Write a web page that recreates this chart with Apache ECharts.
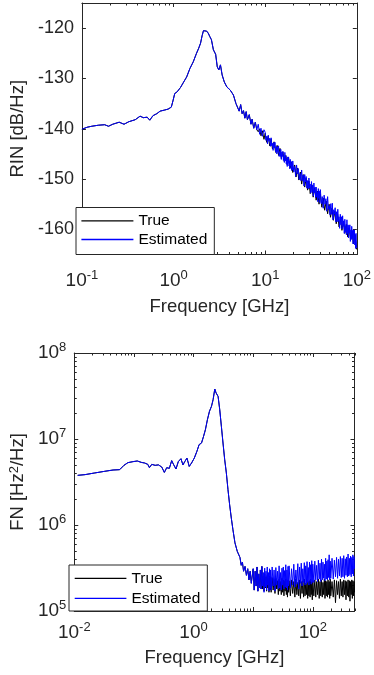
<!DOCTYPE html>
<html><head><meta charset="utf-8">
<script src="https://cdn.jsdelivr.net/npm/echarts@6/dist/echarts.min.js"></script>
<style>html,body{margin:0;padding:0;background:#fff}#c{width:374px;height:675px}</style>
</head><body><div id="c"></div>
<script>
// ---------- RIN (top) ----------
const rinFreqA = [0.1,0.114,0.128,0.151,0.177,0.195,0.217,0.255,0.288,0.325,0.382,0.431,0.468,0.515,0.55,0.596,0.657,0.713,0.791,0.871,0.945,0.99,1.03,1.09,1.19,1.29,1.39,1.51,1.64,1.78,1.88,1.97,2.05,2.12,2.21,2.3,2.39,2.49,2.59,2.72,2.88,3.0,3.12,3.25,3.39,3.58,3.82,4.15,4.5,4.8];
const rinA = [-140.1,-139.7,-139.5,-139.3,-139.2,-139.5,-139.1,-138.7,-139.1,-138.6,-138.2,-137.5,-137.8,-137.7,-138.3,-137.4,-137.0,-136.5,-136.3,-136.1,-135.7,-134.3,-133.0,-132.7,-131.8,-130.7,-129.7,-128.0,-126.7,-125.0,-124.0,-123.0,-121.5,-120.5,-120.8,-120.6,-121.0,-121.7,-122.3,-124.3,-125.2,-127.7,-128.3,-127.3,-129.3,-130.7,-131.7,-132.3,-133.3,-135.0];
// Estimated, noisy high-frequency part
const rinFreqEstB = [5.0,5.2,5.4,5.6,5.8,6.0,6.2,6.4,6.7,7.0,7.2,7.5,7.8,8.1,8.4,8.7,9.0,9.3,9.7,
 10,10.2,10.4,10.6,10.8,11,11.2,11.4,11.6,11.8,12,12.2,12.4,12.6,12.8,13,13.2,13.4,13.6,13.8,14,14.2,14.4,14.6,14.8,15,15.2,15.4,15.6,15.8,16,16.2,16.4,16.6,16.8,17,17.2,17.4,17.6,17.8,18,18.2,18.4,18.6,18.8,19,19.2,19.4,19.6,19.8,
 20,20.5,21,21.5,22,22.5,23,23.5,24,24.5,25,25.5,26,26.5,27,27.5,28,28.5,29,29.5,30,30.5,31,31.5,32,32.5,33,33.5,34,34.5,35,35.5,36,36.5,37,37.5,38,38.5,39,39.5,
 40,41,42,43,44,45,46,47,48,49,50,51,52,53,54,55,56,57,58,59,60,61,62,63,64,65,66,67,68,69,70,71,72,73,74,75,76,77,78,79,80,81,82,83,84,85,86,87,88,89,90,91,92,93,94,95,96,97,98,99,100];
const rinEstB = [-134.9,-136.5,-135.2,-137.0,-136.4,-137.9,-136.6,-138.2,-137.2,-139.1,-138.1,-139.9,-138.7,-140.2,-139.1,-141.1,-139.9,-141.5,-140.2,
 -140.7,-142.3,-141.5,-143.0,-141.3,-142.5,-141.9,-143.5,-141.8,-143.4,-142.9,-144.3,-142.7,-143.8,-142.7,-144.6,-143.5,-145.0,-143.6,-144.7,
 -143.4,-145.5,-144.6,-145.5,-144.1,-146.1,-144.6,-145.5,-144.5,-146.3,-145.3,-146.7,-144.7,-146.4,-145.4,-147.0,-146.0,-147.5,-145.6,-146.9,
 -145.6,-147.4,-146.4,-148.0,-146.1,-147.4,-146.5,-148.3,-146.9,-148.2,
 -146.4,-148.6,-147.5,-149.5,-147.2,-149.0,-147.9,-150.1,-148.9,-150.3,-148.2,-150.3,-149.2,-151.4,-149.1,-150.6,-149.5,-151.8,-150.3,-152.0,
 -149.8,-151.8,-151.0,-152.8,-150.5,-152.6,-151.2,-153.4,-150.8,-152.7,-151.6,-153.7,-151.6,-153.6,-152.5,-154.5,-151.9,-153.8,-152.4,-154.7,
 -152.1,-154.9,-153.5,-155.8,-153.2,-155.0,-153.9,-156.4,-153.5,-156.0,-155.3,-157.1,-154.9,-157.0,-154.8,-158.1,-156.1,-157.0,-155.7,-158.5,
 -156.5,-158.5,-156.0,-158.4,-157.5,-159.8,-157.0,-159.1,-157.5,-159.9,-157.3,-159.4,-158.3,-160.8,-158.0,-160.5,-159.3,-161.1,-158.1,-160.8,
 -159.1,-161.7,-159.2,-160.7,-159.1,-162.4,-160.1,-162.0,-159.4,-161.8,-160.2,-162.9,-160.1,-162.0,-160.1,-163.1,-161.0,-163.8,-160.8,-163.1,
 -163.7];
// True, noisy high-frequency part
const rinFreqTrueB = [5.0,5.2,5.4,5.6,5.8,6.0,6.2,6.4,6.7,7.0,7.2,7.5,7.8,8.1,8.4,8.7,9.0,9.3,9.7,10,10.4,10.8,11.2,11.6,12,12.5,13,13.5,14,14.5,15,15.6,16.2,16.8,17.4,18,18.7,19.4,20,21,21.7,22.5,23.3,24.2,25,26,27,28,29,30,31,32.2,33.4,34.6,36,37.3,38.7,40,41.5,43,44.6,46.3,48,49.8,51.6,53.5,55.5,57.5,59.6,61.8,64,66.4,68.8,71.3,74,76.7,79.5,82.4,85.5,88.6,91.9,95.3,98.8,100];
const rinTrueB = [-134.9,-136.5,-135.2,-137.0,-136.4,-137.9,-136.6,-138.2,-137.2,-139.1,
 -138.1,-139.9,-138.7,-140.2,-140.6,-140.0,-141.4,-140.4,-142.1,-140.9,
 -142.7,-141.4,-143.4,-142.0,-144.0,-142.6,-144.7,-143.3,-145.3,-143.9,
 -145.9,-144.6,-146.6,-145.3,-147.2,-145.8,-147.8,-146.6,-148.7,-147.2,
 -149.6,-147.8,-150.2,-148.6,-151.0,-149.1,-151.6,-149.8,-152.2,-150.4,
 -152.9,-151.1,-153.6,-151.8,-154.2,-152.4,-155.0,-153.0,-155.6,-153.8,
 -156.2,-154.4,-156.9,-155.0,-157.6,-155.8,-158.2,-156.4,-158.9,-157.0,
 -159.5,-157.7,-160.2,-158.4,-160.8,-159.0,-161.5,-159.7,-162.1,-160.4,
 -162.9,-161.2,-163.6,-164.0];

// ---------- FN (bottom) ----------
const fnFreqA = [0.0114,0.0151,0.0221,0.0324,0.0447,0.0577,0.0681,0.0794,0.0962,0.114,0.133,0.151,0.171,0.182,0.1995,0.227,0.258,0.293,0.324,0.355,0.393,0.43,0.464,0.508,0.555,0.615,0.664,0.717,0.775,0.847,0.927,1.03,1.14,1.24,1.36,1.47,1.58,1.71,1.85,2.0,2.13,2.27,2.39,2.58,2.75,2.93,3.12,3.33,3.55,3.78,4.03,4.3,4.58,4.95,5.41];
const fnA = [3.78e6,3.85e6,4.03e6,4.21e6,4.36e6,4.40e6,4.94e6,5.31e6,5.45e6,5.55e6,5.35e6,5.26e6,5.07e6,4.64e6,5.07e6,4.94e6,5.0e6,4.72e6,4.09e6,4.64e6,4.56e6,5.6e6,5.03e6,4.48e6,5.45e6,5.9e6,5.0e6,5.5e6,6.0e6,4.8e6,5.26e6,6.0e6,7.2e6,8.6e6,8.98e6,1.07e7,1.28e7,1.68e7,2.1e7,2.4e7,2.87e7,3.81e7,3.43e7,3.13e7,2.19e7,1.40e7,8.98e6,5.75e6,4.03e6,2.58e6,1.72e6,1.2e6,8.8e5,6.2e5,4.94e5];
const fnFreqB = [6,6.3,6.6,6.9,7.3,7.7,8.1,8.5,8.9,9.3,9.8,
 10,10.4,10.8,11.2,11.6,12,12.4,12.8,13.2,13.6,14,14.4,14.8,15.2,15.6,16,16.4,16.8,17.2,17.6,18,18.4,18.8,19.2,19.6,
 20,20.8,21.6,22.4,23.2,24,24.8,25.6,26.4,27.2,28,28.8,29.6,30.4,31.2,32,32.8,33.6,34.4,35.2,36,36.8,37.6,38.4,39.2,
 40,42,44,46,48,50,52,54,56,58,60,62,64,66,68,70,72,74,76,78,80,82,84,86,88,90,92,94,96,98,
 100,104,108,112,116,120,124,128,132,136,140,144,148,152,156,160,164,168,172,176,180,184,188,192,196,
 200,210,220,230,240,250,260,270,280,290,300,310,320,330,340,350,360,370,380,390,400,410,420,430,440,450,460,470,480,490,500];
const fnEstB = [4.2e5,3.4e5,3.7e5,2.9e5,3.3e5,2.6e5,3.1e5,2.3e5,2.9e5,2.1e5,2.8e5,
 3.1e5,1.75e5,2.9e5,1.95e5,3.25e5,1.7e5,2.7e5,1.85e5,3.0e5,1.8e5,3.3e5,1.95e5,2.8e5,1.65e5,3.15e5,1.9e5,2.9e5,1.75e5,3.25e5,2.0e5,2.8e5,1.7e5,3.1e5,1.85e5,3.0e5,
 1.75e5,3.25e5,1.95e5,3.0e5,1.7e5,3.2e5,2.0e5,2.9e5,1.8e5,3.35e5,1.85e5,2.8e5,1.75e5,3.15e5,2.0e5,3.25e5,1.8e5,2.95e5,1.9e5,3.45e5,1.85e5,3.0e5,1.75e5,3.3e5,1.95e5,
 3.35e5,1.85e5,3.1e5,2.0e5,3.5e5,1.9e5,3.0e5,2.05e5,3.55e5,1.8e5,3.25e5,2.1e5,3.6e5,1.95e5,3.1e5,2.15e5,3.65e5,2.0e5,3.35e5,2.05e5,3.75e5,2.15e5,3.2e5,2.0e5,3.7e5,2.2e5,3.45e5,2.05e5,3.85e5,2.15e5,
 3.5e5,2.15e5,3.8e5,2.3e5,3.4e5,2.2e5,3.9e5,2.35e5,3.6e5,2.2e5,4.0e5,2.3e5,3.7e5,2.4e5,3.5e5,2.25e5,4.1e5,2.35e5,3.8e5,2.3e5,3.95e5,2.45e5,4.5e5,2.3e5,3.8e5,
 2.4e5,4.1e5,2.35e5,3.9e5,2.5e5,4.2e5,2.4e5,4.0e5,2.55e5,4.3e5,2.45e5,4.1e5,2.5e5,4.4e5,2.4e5,4.05e5,2.6e5,4.25e5,2.5e5,4.6e5,2.55e5,4.1e5,2.65e5,4.35e5,2.5e5,4.2e5,2.7e5,4.5e5,2.55e5,4.3e5,
 3.1e5];
const fnTrueB = [4.2e5,3.4e5,3.7e5,2.9e5,3.3e5,2.6e5,3.1e5,2.3e5,2.9e5,2.1e5,2.8e5,
 3.1e5,1.75e5,2.9e5,1.95e5,3.25e5,1.7e5,2.7e5,1.85e5,3.0e5,1.8e5,3.3e5,1.8e5,2.5e5,1.7e5,2.7e5,1.85e5,2.5e5,1.7e5,2.6e5,1.85e5,2.4e5,1.65e5,2.55e5,1.75e5,2.5e5,
 1.65e5,2.45e5,1.75e5,2.3e5,1.6e5,2.4e5,1.8e5,2.25e5,1.55e5,2.35e5,1.7e5,2.2e5,1.55e5,2.4e5,1.65e5,2.3e5,1.5e5,2.25e5,1.7e5,2.35e5,1.55e5,2.2e5,1.45e5,2.3e5,1.65e5,
 2.25e5,1.5e5,2.3e5,1.6e5,2.2e5,1.45e5,2.35e5,1.55e5,2.15e5,1.5e5,2.3e5,1.4e5,2.2e5,1.6e5,2.25e5,1.45e5,2.35e5,1.5e5,2.1e5,1.55e5,2.3e5,1.4e5,2.2e5,1.5e5,2.25e5,1.45e5,2.35e5,1.55e5,2.15e5,1.35e5,
 2.25e5,1.5e5,2.3e5,1.45e5,2.2e5,1.55e5,2.35e5,1.4e5,2.2e5,1.5e5,2.3e5,1.45e5,2.15e5,1.55e5,2.35e5,1.4e5,2.25e5,1.5e5,2.2e5,1.45e5,2.3e5,1.55e5,2.2e5,1.4e5,2.35e5,
 1.5e5,2.2e5,1.45e5,2.3e5,1.25e5,2.25e5,1.55e5,2.2e5,1.4e5,2.35e5,1.5e5,2.2e5,1.45e5,2.3e5,1.55e5,2.25e5,1.35e5,2.2e5,1.5e5,2.3e5,1.45e5,2.25e5,1.3e5,2.2e5,1.55e5,2.3e5,1.4e5,2.25e5,1.5e5,2.2e5,
 1.65e5];

const seriesNames = ['True', 'Estimated'];
const rinYTicks = [-160, -150, -140, -130, -120];

// ---------- build ----------
const AX = '#262626';
const FONT = '"Liberation Sans", Arial, Helvetica, sans-serif';
const pairs = (xs, ys) => xs.map((x, i) => [x, ys[i]]);
const rinEstData = pairs(rinFreqA, rinA).concat(pairs(rinFreqEstB, rinEstB));
const rinTrueData = pairs(rinFreqA, rinA).concat(pairs(rinFreqTrueB, rinTrueB));
const fnEstData = pairs(fnFreqA, fnA).concat(pairs(fnFreqB, fnEstB));
const fnTrueData = pairs(fnFreqA, fnA).concat(pairs(fnFreqB, fnTrueB));

function minorVals(decades, maxV) {
  const out = [];
  decades.forEach(d => { for (let k = 2; k <= 9; k++) { const v = k * d; if (v <= maxV) out.push(v); } });
  return out;
}
const rinMinorX = minorVals([0.1, 1, 10], 100);
const fnMinorX = minorVals([0.01, 0.1, 1, 10, 100], 500);
const fnMinorY = minorVals([1e5, 1e6, 1e7], 1e8);

function powLabel(v, everyOther) {
  const l = Math.log10(v), e = Math.round(l);
  if (Math.abs(l - e) > 1e-6) return '';
  if (everyOther && e % 2 !== 0) return '';
  return '{b|10}{s|' + e + '}';
}
const rich = {
  b: { fontSize: 19, lineHeight: 24, fontFamily: FONT, color: AX, verticalAlign: 'middle' },
  s: { fontSize: 13, lineHeight: 13, fontFamily: FONT, color: AX, verticalAlign: 'top' }
};
const axLine = { show: true, onZero: false, lineStyle: { color: AX, width: 1 } };
const majTick = { show: true, inside: true, length: 4, lineStyle: { color: AX, width: 1 } };
const nameStyle = { fontSize: 18.5, color: AX, fontFamily: FONT };

function minorXSeries(xi, yi, vals, yRef) {
  return {
    type: 'custom', xAxisIndex: xi, yAxisIndex: yi, silent: true, clip: false, z: 1,
    data: vals.map(v => [v, yRef]),
    renderItem: (p, api) => {
      const x = Math.round(api.coord([api.value(0), api.value(1)])[0]) + 0.5;
      const cs = p.coordSys;
      const st = { stroke: AX, lineWidth: 1 };
      return { type: 'group', children: [
        { type: 'line', shape: { x1: x, y1: cs.y + cs.height, x2: x, y2: cs.y + cs.height - 2.5 }, style: st },
        { type: 'line', shape: { x1: x, y1: cs.y, x2: x, y2: cs.y + 2.5 }, style: st }
      ] };
    }
  };
}
function minorYSeries(xi, yi, vals, xRef) {
  return {
    type: 'custom', xAxisIndex: xi, yAxisIndex: yi, silent: true, clip: false, z: 1,
    data: vals.map(v => [xRef, v]),
    renderItem: (p, api) => {
      const y = Math.round(api.coord([api.value(0), api.value(1)])[1]) + 0.5;
      const cs = p.coordSys;
      const st = { stroke: AX, lineWidth: 1 };
      return { type: 'group', children: [
        { type: 'line', shape: { x1: cs.x, y1: y, x2: cs.x + 2.5, y2: y }, style: st },
        { type: 'line', shape: { x1: cs.x + cs.width, y1: y, x2: cs.x + cs.width - 2.5, y2: y }, style: st }
      ] };
    }
  };
}
function lineSeries(name, xi, yi, data, color, z) {
  return { type: 'line', name, xAxisIndex: xi, yAxisIndex: yi, data, showSymbol: false, symbol: 'none',
    color, lineStyle: { color, width: 1 }, itemStyle: { color }, z, silent: true };
}
const legendBase = {
  orient: 'vertical', data: seriesNames, selectedMode: false, icon: 'rect',
  itemHeight: 1.3, borderColor: AX, borderWidth: 1, backgroundColor: '#fff', z: 10,
  textStyle: { fontSize: 15.5, color: '#000', fontFamily: FONT, lineHeight: 16 }
};

const option = {
  animation: false,
  backgroundColor: '#fff',
  grid: [
    { left: 76, top: 3, width: 285.5, height: 251.5 },
    { left: 69, top: 353, width: 285.5, height: 258 }
  ],
  legend: [
    Object.assign({}, legendBase, { left: 76, top: 207.5, itemWidth: 52, itemGap: 2.6, padding: [5.4, 7, 7, 5.4] }),
    Object.assign({}, legendBase, { left: 69, top: 565, itemWidth: 51.7, itemGap: 4, padding: [5.3, 7, 4.7, 5.7] })
  ],
  xAxis: [
    { gridIndex: 0, type: 'log', logBase: 10, min: 0.1, max: 100, position: 'bottom', axisLine: axLine, axisTick: majTick,
      splitLine: { show: false }, axisLabel: { formatter: v => powLabel(v, false), rich, margin: 14 },
      name: 'Frequency [GHz]', nameLocation: 'middle', nameGap: 43, nameTextStyle: nameStyle },
    { gridIndex: 0, type: 'log', logBase: 10, min: 0.1, max: 100, position: 'top', axisLine: axLine, axisTick: majTick,
      splitLine: { show: false }, axisLabel: { show: false } },
    { gridIndex: 1, type: 'log', logBase: 10, min: 0.01, max: 500, position: 'bottom', axisLine: axLine, axisTick: majTick,
      splitLine: { show: false }, axisLabel: { formatter: v => powLabel(v, true), rich, margin: 10 },
      name: 'Frequency [GHz]', nameLocation: 'middle', nameGap: 37, nameTextStyle: nameStyle },
    { gridIndex: 1, type: 'log', logBase: 10, min: 0.01, max: 500, position: 'top', axisLine: axLine, axisTick: majTick,
      splitLine: { show: false }, axisLabel: { show: false } }
  ],
  yAxis: [
    { gridIndex: 0, type: 'value', min: -165, max: -115, position: 'left', axisLine: axLine, axisTick: majTick,
      splitLine: { show: false },
      axisLabel: { formatter: v => rinYTicks.indexOf(v) >= 0 ? String(v) : '', fontSize: 18, color: AX, fontFamily: FONT, margin: 8 },
      name: 'RIN [dB/Hz]', nameLocation: 'middle', nameGap: 50, nameTextStyle: nameStyle },
    { gridIndex: 0, type: 'value', min: -165, max: -115, position: 'right', axisLine: axLine, axisTick: majTick,
      splitLine: { show: false }, axisLabel: { show: false } },
    { gridIndex: 1, type: 'log', logBase: 10, min: 1e5, max: 1e8, position: 'left', axisLine: axLine, axisTick: majTick,
      splitLine: { show: false }, axisLabel: { formatter: v => powLabel(v, false), rich, margin: 8 },
      name: 'FN [Hz{s|2}/Hz]', nameLocation: 'middle', nameGap: 39,
      nameTextStyle: Object.assign({}, nameStyle, { rich: { s: { fontSize: 13, fontFamily: FONT, color: AX, verticalAlign: 'top', lineHeight: 12 } } }) },
    { gridIndex: 1, type: 'log', logBase: 10, min: 1e5, max: 1e8, position: 'right', axisLine: axLine, axisTick: majTick,
      splitLine: { show: false }, axisLabel: { show: false } }
  ],
  series: [
    lineSeries('True', 0, 0, rinTrueData, '#000000', 2),
    lineSeries('Estimated', 0, 0, rinEstData, '#0000ff', 3),
    lineSeries('True', 2, 2, fnTrueData, '#000000', 2),
    lineSeries('Estimated', 2, 2, fnEstData, '#0000ff', 3),
    minorXSeries(0, 0, rinMinorX, -140),
    minorXSeries(2, 2, fnMinorX, 1e6),
    minorYSeries(2, 2, fnMinorY, 1)
  ]
};
const chart = echarts.init(document.getElementById('c'), null, { renderer: 'canvas' });
chart.setOption(option);
</script>
</body></html>
